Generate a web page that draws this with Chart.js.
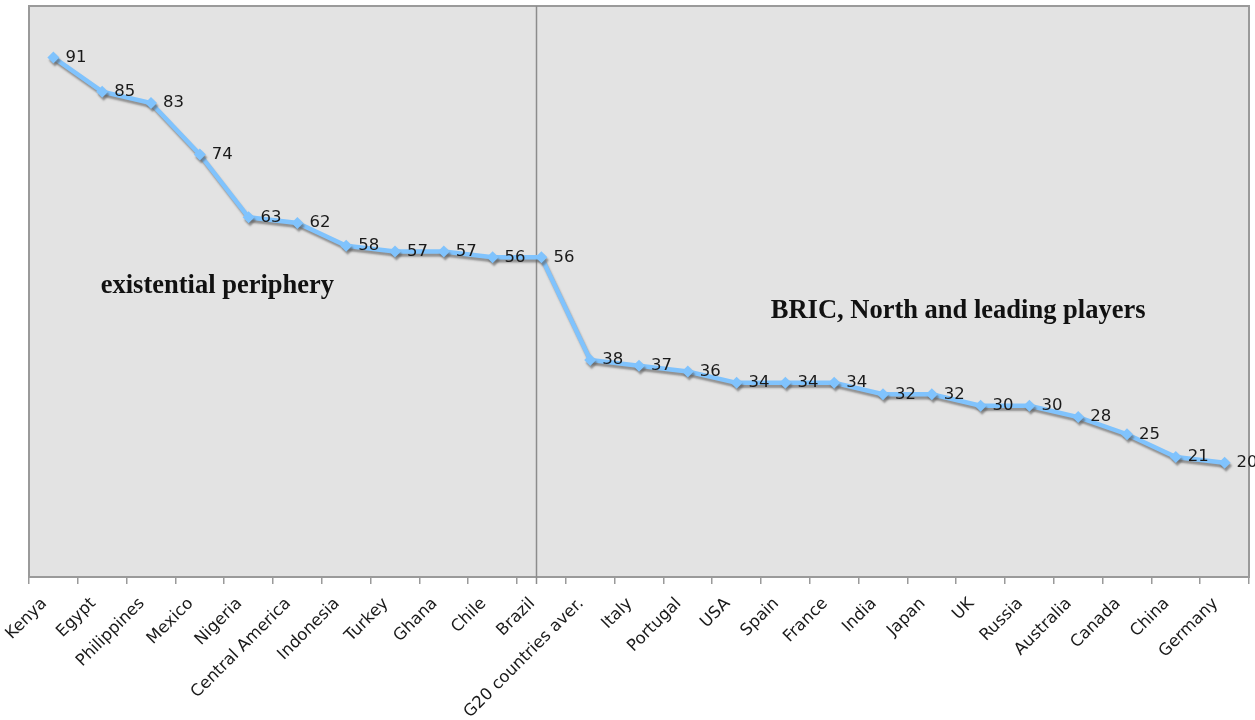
<!DOCTYPE html>
<html lang="en">
<head>
    <meta charset="UTF-8">
    <title>Existential periphery vs BRIC, North and leading players</title>
    <script src="https://cdn.jsdelivr.net/npm/chart.js"></script>
    <style>
        body {
            margin: 0;
            background-color: #fff;
        }
        .wrap {
            width: 1255px;
            height: 720px;
            position: relative;
        }
    </style>
</head>
<body>

<div class="wrap">
    <canvas id="grafico"></canvas>
</div>

<script>
// data
const countries = ['Kenya', 'Egypt', 'Philippines', 'Mexico', 'Nigeria', 'Central America', 'Indonesia',
    'Turkey', 'Ghana', 'Chile', 'Brazil', 'G20 countries aver.', 'Italy', 'Portugal', 'USA', 'Spain',
    'France', 'India', 'Japan', 'UK', 'Russia', 'Australia', 'Canada', 'China', 'Germany'];
const values = [91, 85, 83, 74, 63, 62, 58, 57, 57, 56, 56, 38, 37, 36, 34, 34, 34, 32, 32, 30, 30, 28, 25, 21, 20];
const yRange = [0, 100];
const groupNames = ['existential periphery', 'BRIC, North and leading players'];

const lineBlue = '#80c3fd';

// plot frame, divider line and group names
const decoPlugin = {
    id: 'deco',
    beforeDraw(chart) {
        const a = chart.chartArea;
        const ctx = chart.ctx;
        ctx.save();
        ctx.fillStyle = '#e3e3e3';
        ctx.fillRect(a.left, a.top, a.right - a.left, a.bottom - a.top);
        ctx.restore();
    },
    beforeDatasetsDraw(chart) {
        const a = chart.chartArea;
        const ctx = chart.ctx;
        const x = chart.scales.x;
        const y = chart.scales.y;
        ctx.save();
        ctx.strokeStyle = '#9a9a9a';
        ctx.lineWidth = 2;
        ctx.strokeRect(a.left, a.top, a.right - a.left, a.bottom - a.top);

        // divider just left of Brazil
        const xd = Math.round(x.getPixelForValue(9.88)) + 0.5;
        ctx.strokeStyle = '#8c8c8c';
        ctx.lineWidth = 1.5;
        ctx.beginPath();
        ctx.moveTo(xd, a.top);
        ctx.lineTo(xd, a.bottom + 7);
        ctx.stroke();

        ctx.fillStyle = '#111';
        ctx.font = 'bold 26.5px "Liberation Serif", "Times New Roman", serif';
        ctx.textBaseline = 'alphabetic';
        ctx.textAlign = 'left';
        ctx.fillText(groupNames[0], x.getPixelForValue(0.97), y.getPixelForValue(49.7));
        ctx.fillText(groupNames[1], x.getPixelForValue(14.7), y.getPixelForValue(45.3));
        ctx.restore();
    },
    beforeDatasetDraw(chart) {
        const ctx = chart.ctx;
        ctx.save();
        ctx.shadowColor = 'rgba(90, 90, 90, 0.6)';
        ctx.shadowOffsetX = 1.5;
        ctx.shadowOffsetY = 3;
        ctx.shadowBlur = 2;
    },
    afterDatasetDraw(chart) {
        chart.ctx.restore();
    },
    afterDatasetsDraw(chart) {
        // value labels to the right of each point
        const ctx = chart.ctx;
        const meta = chart.getDatasetMeta(0);
        ctx.save();
        ctx.fillStyle = '#1a1a1a';
        ctx.font = '16.5px "DejaVu Sans", Verdana, sans-serif';
        ctx.textBaseline = 'middle';
        ctx.textAlign = 'left';
        meta.data.forEach((pt, i) => {
            ctx.fillText(values[i], pt.x + 12, pt.y);
        });
        ctx.restore();
    }
};

const ctx = document.getElementById('grafico').getContext('2d');
new Chart(ctx, {
    type: 'line',
    data: {
        labels: countries,
        datasets: [{
            data: values,
            borderColor: lineBlue,
            backgroundColor: lineBlue,
            borderWidth: 4.5,
            tension: 0,
            pointStyle: 'rectRot',
            pointRadius: 6,
            pointBorderWidth: 0,
            pointBackgroundColor: lineBlue,
            clip: false
        }]
    },
    options: {
        responsive: true,
        maintainAspectRatio: false,
        animation: false,
        layout: {
            padding: { left: 29, right: 2, top: 4, bottom: 0 }
        },
        plugins: {
            legend: { display: false },
            tooltip: { enabled: false }
        },
        scales: {
            x: {
                offset: true,
                grid: {
                    offset: true,
                    drawOnChartArea: false,
                    drawTicks: true,
                    tickLength: 7,
                    color: '#9a9a9a',
                    lineWidth: 1.5
                },
                border: { display: false },
                ticks: {
                    autoSkip: false,
                    minRotation: 45,
                    maxRotation: 45,
                    padding: 10,
                    labelOffset: -9,
                    color: '#1a1a1a',
                    font: { family: '"DejaVu Sans", Verdana, sans-serif', size: 16.5 }
                },
                afterFit(scale) {
                    scale.height = 143;
                    scale.paddingLeft = 0;
                    scale.paddingRight = 0;
                }
            },
            y: {
                display: false,
                min: yRange[0],
                max: yRange[1]
            }
        }
    },
    plugins: [decoPlugin]
});
</script>

</body>
</html>
